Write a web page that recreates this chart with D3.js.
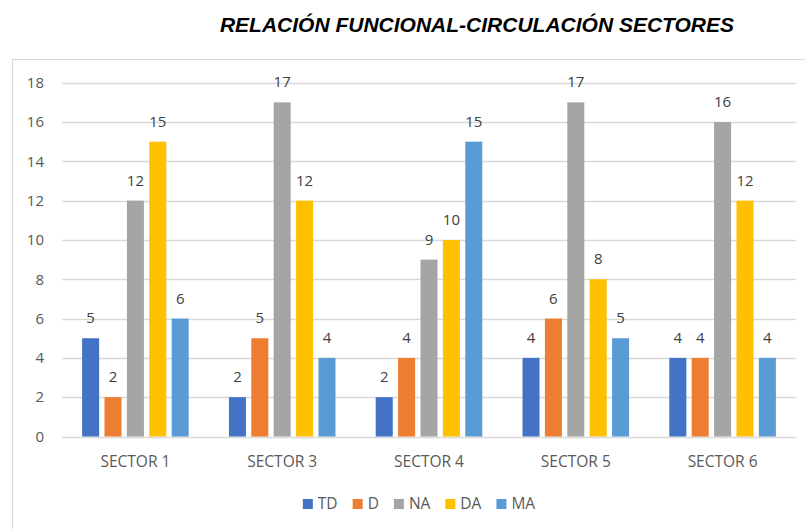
<!DOCTYPE html>
<html lang="es">
<head>
<meta charset="utf-8">
<title>Relación funcional-circulación sectores</title>
<script src="https://cdn.jsdelivr.net/npm/d3@7"></script>
<style>
  body { margin: 0; background: #fff; }
  text { font-family: "Open Sans", "Noto Sans", sans-serif; }
</style>
</head>
<body>
<div id="chart"></div>
<script>
// datos
var sectores = ["SECTOR 1", "SECTOR 3", "SECTOR 4", "SECTOR 5", "SECTOR 6"];
var series = ["TD", "D", "NA", "DA", "MA"];
var valTD = [5, 2, 2, 4, 4];
var valD  = [2, 5, 4, 6, 4];
var valNA = [12, 17, 9, 17, 16];
var valDA = [15, 12, 10, 8, 12];
var valMA = [6, 4, 15, 5, 4];
var yTicks = [0, 2, 4, 6, 8, 10, 12, 14, 16, 18];
var colores = ["#4472C4", "#ED7D31", "#A5A5A5", "#FFC000", "#5B9BD5"];

var valores = { TD: valTD, D: valD, NA: valNA, DA: valDA, MA: valMA };

var width = 805, height = 529;
var plotLeft = 62, plotRight = 796, plotTop = 82.7, plotBottom = 436.5;

var svg = d3.select("#chart").append("svg")
    .attr("width", width)
    .attr("height", height);

// marco del area del grafico
svg.append("rect")
    .attr("x", 12.5).attr("y", 59.5)
    .attr("width", 800).attr("height", 500)
    .attr("fill", "none")
    .attr("stroke", "#d9d9d9");

svg.append("text")
    .attr("x", 477).attr("y", 32)
    .attr("text-anchor", "middle")
    .style("font-family", "'Liberation Sans', Arial, sans-serif")
    .style("font-weight", "bold")
    .style("font-style", "italic")
    .style("font-size", "21px")
    .attr("fill", "#000")
    .text("RELACIÓN FUNCIONAL-CIRCULACIÓN SECTORES");

var x0 = d3.scaleBand()
    .domain(sectores)
    .range([plotLeft, plotRight])
    .paddingInner(0.274)
    .paddingOuter(0.137);

var x1 = d3.scaleBand()
    .domain(series)
    .range([0, x0.bandwidth()])
    .paddingInner(0.24);

var y = d3.scaleLinear()
    .domain([0, 18])
    .range([plotBottom, plotTop]);

// lineas de la cuadricula
svg.append("g").selectAll("line")
    .data(yTicks)
    .enter().append("line")
    .attr("x1", plotLeft).attr("x2", plotRight)
    .attr("y1", function (d) { return Math.round(y(d)) + 0.5; })
    .attr("y2", function (d) { return Math.round(y(d)) + 0.5; })
    .attr("stroke", "#d9d9d9")
    .attr("stroke-width", 1.3);

svg.append("g").selectAll("text")
    .data(yTicks)
    .enter().append("text")
    .attr("x", 44)
    .attr("y", function (d) { return y(d); })
    .attr("dy", "0.35em")
    .attr("text-anchor", "end")
    .style("font-size", "15px")
    .attr("fill", "#595959")
    .text(function (d) { return d; });

var grupos = svg.append("g").selectAll("g")
    .data(sectores)
    .enter().append("g")
    .attr("transform", function (d) { return "translate(" + x0(d) + ",0)"; });

grupos.selectAll("rect")
    .data(function (d, i) {
        return series.map(function (s, j) { return { s: s, v: valores[s][i], c: colores[j] }; });
    })
    .enter().append("rect")
    .attr("x", function (d) { return x1(d.s); })
    .attr("y", function (d) { return y(d.v); })
    .attr("width", x1.bandwidth())
    .attr("height", function (d) { return plotBottom - y(d.v); })
    .attr("fill", function (d) { return d.c; });

grupos.selectAll("text")
    .data(function (d, i) {
        return series.map(function (s) { return { s: s, v: valores[s][i] }; });
    })
    .enter().append("text")
    .attr("x", function (d) { return x1(d.s) + x1.bandwidth() / 2; })
    .attr("y", function (d) { return y(d.v) - 15; })
    .attr("text-anchor", "middle")
    .style("font-size", "15px")
    .attr("fill", "#404040")
    .text(function (d) { return d.v; });

svg.append("g").selectAll("text")
    .data(sectores)
    .enter().append("text")
    .attr("x", function (d) { return x0(d) + x0.bandwidth() / 2; })
    .attr("y", 462)
    .attr("dy", "0.35em")
    .attr("text-anchor", "middle")
    .style("font-size", "15.5px")
    .attr("fill", "#595959")
    .text(function (d) { return d; });

// leyenda
var leyenda = svg.append("g");
var lx = 0;
series.forEach(function (s, i) {
    var it = leyenda.append("g").attr("transform", "translate(" + lx + ",0)");
    it.append("rect")
        .attr("x", 0).attr("y", -5)
        .attr("width", 10).attr("height", 10)
        .attr("fill", colores[i]);
    var t = it.append("text")
        .attr("x", 15).attr("y", 0)
        .attr("dy", "0.35em")
        .style("font-size", "15.5px")
        .attr("fill", "#595959")
        .text(s);
    lx += 15 + t.node().getComputedTextLength() + 15;
});
lx -= 15;
leyenda.attr("transform", "translate(" + (419 - lx / 2) + ",504)");
</script>
</body>
</html>
